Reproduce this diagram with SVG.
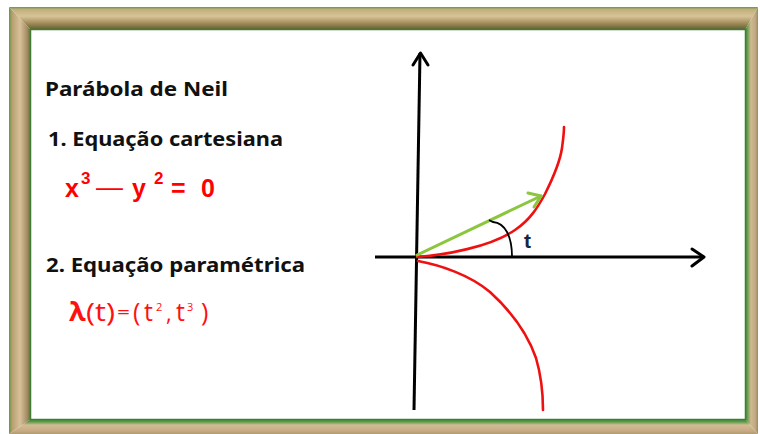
<svg xmlns="http://www.w3.org/2000/svg" width="760" height="434" viewBox="0 0 760 434">
<defs>
<linearGradient id="gTop" x1="0" y1="7" x2="0" y2="30" gradientUnits="userSpaceOnUse">
<stop offset="0" stop-color="#5f9a44"/><stop offset="0.1" stop-color="#c2ad7c"/><stop offset="0.4" stop-color="#d6c497"/><stop offset="0.7" stop-color="#a48d5c"/><stop offset="0.92" stop-color="#6d6a3a"/><stop offset="1" stop-color="#4d6e2c"/>
</linearGradient>
<linearGradient id="gLeft" x1="9" y1="0" x2="31" y2="0" gradientUnits="userSpaceOnUse">
<stop offset="0" stop-color="#5f9a48"/><stop offset="0.15" stop-color="#b8a070"/><stop offset="0.5" stop-color="#d8c09a"/><stop offset="0.8" stop-color="#a89068"/><stop offset="1" stop-color="#6a6a3a"/>
</linearGradient>
<linearGradient id="gRight" x1="745" y1="0" x2="758" y2="0" gradientUnits="userSpaceOnUse">
<stop offset="0" stop-color="#3f8a3a"/><stop offset="0.2" stop-color="#6aa050"/><stop offset="0.45" stop-color="#d0b890"/><stop offset="0.8" stop-color="#c0a880"/><stop offset="1" stop-color="#9a8a60"/>
</linearGradient>
<linearGradient id="gBottom" x1="0" y1="419" x2="0" y2="434" gradientUnits="userSpaceOnUse">
<stop offset="0" stop-color="#3f8a3a"/><stop offset="0.18" stop-color="#5a9a48"/><stop offset="0.4" stop-color="#d4bc94"/><stop offset="0.8" stop-color="#c8aa84"/><stop offset="1" stop-color="#b09a70"/>
</linearGradient>
<style>
.title{font-family:"Noto Sans","DejaVu Sans",sans-serif;font-weight:bold;font-size:20px;fill:#111}
.eq{font-family:"Liberation Sans",Arial,sans-serif;font-weight:bold;fill:#ff0000}
.eq2{font-family:"Open Sans","Liberation Sans",sans-serif;fill:#ff1010}
.axis{stroke:#000;stroke-width:3;fill:none}
.head{stroke:#000;stroke-width:3;fill:none;stroke-linecap:round;stroke-linejoin:round}
.curve{stroke:#f01010;stroke-width:2.6;fill:none;stroke-linecap:round}
.vec{stroke:#8cc63f;stroke-width:3;fill:none;stroke-linecap:round;stroke-linejoin:round}
</style>
</defs>
<rect x="0" y="0" width="760" height="434" fill="#ffffff"/>
<g id="frame">
<polygon points="9,7 758,7 745,30 31,30" fill="url(#gTop)"/>
<polygon points="9,7 31,30 31,419 9,434" fill="url(#gLeft)"/>
<polygon points="758,7 758,434 745,419 745,30" fill="url(#gRight)"/>
<polygon points="9,434 31,419 745,419 758,434" fill="url(#gBottom)"/>
<rect x="31" y="30" width="714" height="389" fill="#ffffff"/>
<rect x="30.5" y="29.5" width="715" height="390" fill="none" stroke="#3f7d34" stroke-width="1.5"/>
</g>
<g id="texts">
<text class="title" x="45" y="96" textLength="183" lengthAdjust="spacingAndGlyphs">Parábola de Neil</text>
<text class="title" x="48" y="146" textLength="235" lengthAdjust="spacingAndGlyphs">1. Equação cartesiana</text>
<text class="title" x="46" y="272" textLength="259" lengthAdjust="spacingAndGlyphs">2. Equação paramétrica</text>
<g id="eq-cartesian" class="eq">
<text x="65" y="197" font-size="25">x</text>
<text x="81" y="184" font-size="17">3</text>
<text x="96" y="196" font-size="25" font-weight="normal" textLength="27" lengthAdjust="spacingAndGlyphs">–</text>
<text x="132" y="197" font-size="25">y</text>
<text x="154" y="184" font-size="17">2</text>
<text x="171" y="197" font-size="25">=</text>
<text x="201" y="197" font-size="25">0</text>
</g>
<g id="eq-parametric" class="eq2">
<text x="69" y="321" font-size="27" font-weight="bold">λ</text>
<text x="86" y="321" font-size="25" textLength="29" lengthAdjust="spacingAndGlyphs">(t)</text>
<text x="117" y="318" font-size="17" textLength="13" lengthAdjust="spacingAndGlyphs">=</text>
<text x="133" y="321" font-size="25">(</text>
<text x="144" y="321" font-size="25">t</text>
<text x="156" y="311" font-size="11">2</text>
<text x="166" y="321" font-size="22">,</text>
<text x="176" y="321" font-size="25">t</text>
<text x="187" y="311" font-size="11">3</text>
<text x="201" y="321" font-size="25">)</text>
</g>
</g>
<g id="graph">
<line class="axis" x1="414" y1="410" x2="420" y2="53"/>
<polyline class="head" points="413,65 420.5,53 428,65"/>
<line class="axis" x1="375" y1="257" x2="704" y2="257"/>
<polyline class="head" points="692,249 704,257 692,266"/>
<path class="curve" d="M417,257 C445,255 490,247 515,230 C530,220 538,207 545,194 C553,178 560,162 562,148 C563,140 564,134 564,127"/>
<path class="curve" d="M418,261 C440,265 470,275 490,292 C512,312 528,335 536,358 C541,375 543,395 543,410"/>
<line class="vec" x1="417" y1="255" x2="541" y2="196"/>
<polyline class="vec" points="528,193 541,196 534,207"/>
<path d="M489,220 L493,222 C505,223 512,236 512,257" fill="none" stroke="#000" stroke-width="1.8"/>
<text x="524" y="248" font-family="Liberation Sans, Arial, sans-serif" font-weight="bold" font-size="21" fill="#1a2540">t</text>
</g>
</svg>
